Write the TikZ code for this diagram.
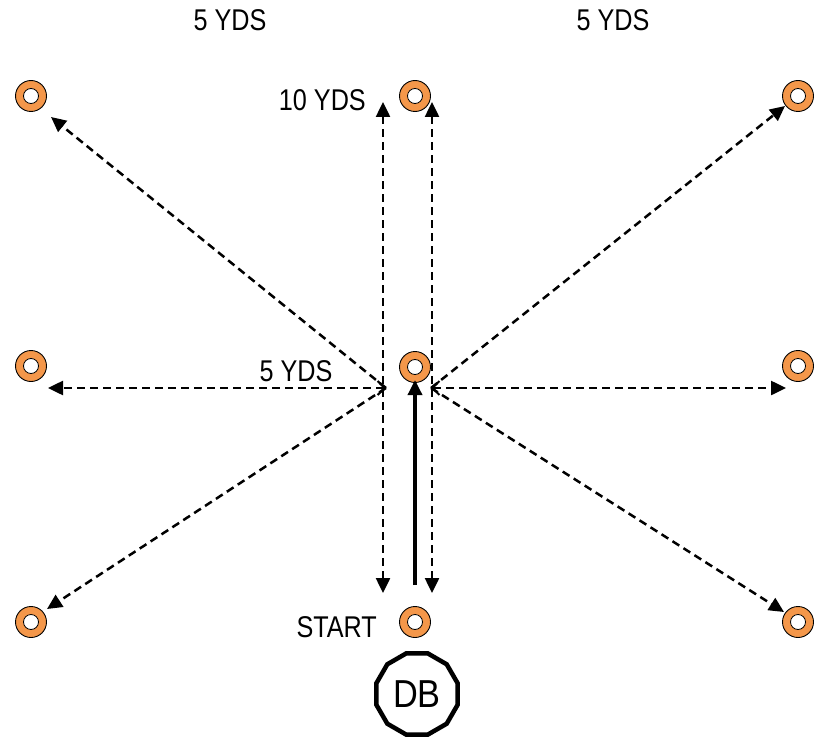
\documentclass[tikz,border=0pt]{standalone}
\usepackage{fontspec}
\setmainfont{Liberation Sans}
\usetikzlibrary{arrows.meta,shapes.geometric}
\definecolor{cone}{HTML}{F4974A}
\tikzset{
  conenode/.style={circle,draw=black,line width=0.9pt,fill=cone,minimum size=31pt,inner sep=0pt,
    path picture={\fill[white,draw=black,line width=0.8pt] (path picture bounding box.center) circle (7.5pt);}},
  lbl/.style={inner sep=0pt,font=\fontsize{30}{33}\selectfont},
  dashline/.style={draw,line width=2.5pt,dash pattern=on 8pt off 5pt},
  tri/.tip={Triangle[length=15pt,width=14pt]},
  barb/.tip={Straight Barb[length=7pt,width=14pt,line width=2pt]},
}
\newcommand{\yds}[1]{\scalebox{0.84}[1]{#1}}
\begin{document}
\begin{tikzpicture}[x=1pt,y=-1pt]
\useasboundingbox (0,0) rectangle (821,738);
% cones
\node[conenode] (tl) at (31,96) {};
\node[conenode] (tc) at (415,96) {};
\node[conenode] (tr) at (798,96) {};
\node[conenode] (ml) at (31,366) {};
\node[conenode] (mc) at (415,367) {};
\node[conenode] (mr) at (798,366) {};
\node[conenode] (bl) at (31,622) {};
\node[conenode] (bc) at (415,622) {};
\node[conenode] (br) at (798,622) {};
% DB
\node[regular polygon,regular polygon sides=12,draw,line width=4.5pt,minimum size=84pt,inner sep=0pt,
  font=\fontsize{39}{42}\selectfont] (db) at (417,694) {\scalebox{0.88}[1]{DB}};
% labels
\node[lbl] (t1) at (230,20) {\yds{5 YDS}};
\node[lbl] (t2) at (613,20) {\yds{5 YDS}};
\node[lbl,anchor=east] (t3) at (366,100) {\yds{10 YDS}};
\node[lbl] (t4) at (296,371) {\yds{5 YDS}};
\node[lbl,anchor=east] (t5) at (377,627) {\yds{START}};
% coordinates
\coordinate (lvt) at (383,102);
\coordinate (lvb) at (383,593);
\coordinate (rvt) at (432,102);
\coordinate (rvb) at (432,593);
\coordinate (lp) at (386,388);
\coordinate (rp) at (431,388);
\coordinate (tla) at (51,117);
\coordinate (mla) at (48,388);
\coordinate (bla) at (47,609);
\coordinate (tra) at (785,106);
\coordinate (mra) at (786,388);
\coordinate (bra) at (784,612);
\coordinate (s0) at (415,585);
\coordinate (s1) at (415,380);
% connectors
\draw[dashline,{tri}-{tri}] (lvb) -- (lvt);
\draw[dashline,{tri}-{tri}] (rvb) -- (rvt);
\draw[line width=3.4pt,-{tri}] (s0) -- (s1);
\draw[dashline,{barb}-{tri}] (lp) -- (mla);
\draw[dashline,-{tri}] (lp) -- (tla);
\draw[dashline,-{tri}] (lp) -- (bla);
\draw[dashline,{barb}-{tri}] (rp) -- (mra);
\draw[dashline,-{tri}] (rp) -- (tra);
\draw[dashline,-{tri}] (rp) -- (bra);
\end{tikzpicture}
\end{document}
